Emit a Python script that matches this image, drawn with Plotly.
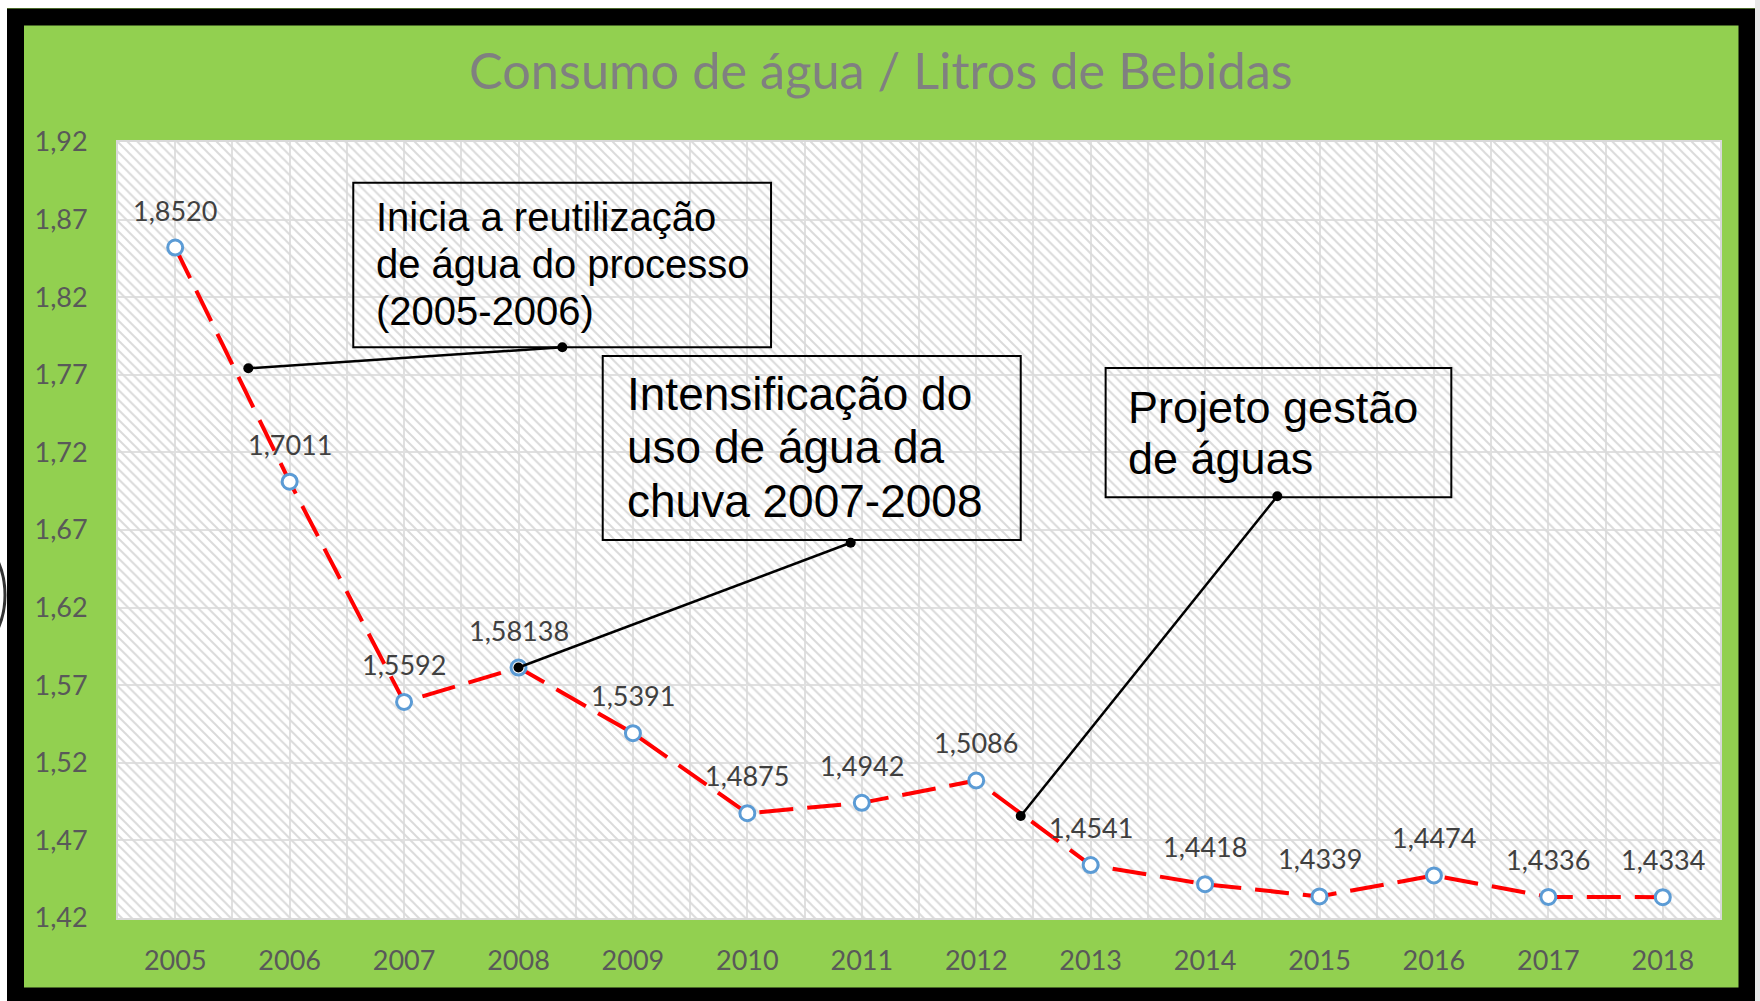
import plotly.graph_objects as go

# ---------------- data ----------------
years = ["2005", "2006", "2007", "2008", "2009", "2010", "2011",
         "2012", "2013", "2014", "2015", "2016", "2017", "2018"]
consumo = [1.8520, 1.7011, 1.5592, 1.58138, 1.5391, 1.4875, 1.4942,
           1.5086, 1.4541, 1.4418, 1.4339, 1.4474, 1.4336, 1.4334]
value_labels = ["1,8520", "1,7011", "1,5592", "1,58138", "1,5391", "1,4875", "1,4942",
                "1,5086", "1,4541", "1,4418", "1,4339", "1,4474", "1,4336", "1,4334"]
y_ticks = [1.42, 1.47, 1.52, 1.57, 1.62, 1.67, 1.72, 1.77, 1.82, 1.87, 1.92]
y_tick_labels = ["1,42", "1,47", "1,52", "1,57", "1,62", "1,67", "1,72", "1,77", "1,82", "1,87", "1,92"]
title_text = "Consumo de água / Litros de Bebidas"

# callout boxes: (x0, x1, y0, y1) in data units, lines of text, left x, baselines, font size
callouts = [
    dict(box=(1.556, 5.207, 1.7877, 1.8938),
         lines=["Inicia a reutilização", "de água do processo", "(2005-2006)"],
         tx=1.737, ty=[1.8623, 1.8321, 1.8018], size=40,
         conn=((0.639, 1.7742), (3.383, 1.7877))),
    dict(box=(3.736, 7.389, 1.6636, 1.7821),
         lines=["Intensificação do", "uso de água da", "chuva 2007-2008"],
         tx=3.931, ty=[1.7467, 1.7122, 1.6777], size=46,
         conn=((3.0, 1.58138), (5.903, 1.6618))),
    dict(box=(8.131, 11.152, 1.6911, 1.7744),
         lines=["Projeto gestão", "de águas"],
         tx=8.307, ty=[1.7383, 1.7054], size=45,
         conn=((7.389, 1.4857), (9.631, 1.6918))),
]

# ---------------- geometry / style ----------------
W, H = 1760, 1001
ML, MR, MT, MB = 118, 40, 142, 83
PW, PH = W - ML - MR, H - MT - MB
XMIN, XMAX = -0.5, len(years) - 0.5
YMIN, YMAX = 1.42, 1.92
GREEN = "#92D050"
TICK_COL = "#595959"
LABEL_COL = "#404040"
GRID_COL = "#e0e0e0"


def px_x(p):
    return (p - ML) / PW


def px_y(p):
    return (H - MB - p) / PH


xs = list(range(len(years)))

fig = go.Figure()

# hatched plot-area background
fig.add_trace(go.Scatter(
    x=[XMIN, XMAX, XMAX, XMIN, XMIN], y=[YMIN, YMIN, YMAX, YMAX, YMIN],
    mode="none", fill="toself", fillcolor="rgba(0,0,0,0)",
    fillpattern=dict(shape="\\", fgcolor="#dadada", size=7, solidity=0.28, fillmode="replace"),
    hoverinfo="skip", showlegend=False))

# main series
fig.add_trace(go.Scatter(
    x=xs, y=consumo, mode="lines+markers",
    line=dict(color="#FF0000", width=4, dash="34px,14px"),
    marker=dict(symbol="circle", size=15, color="white",
                line=dict(color="#5B9BD5", width=3)),
    showlegend=False, cliponaxis=False))

# connectors of callouts
for c in callouts:
    (ax0, ay0), (ax1, ay1) = c["conn"]
    fig.add_trace(go.Scatter(
        x=[ax0, ax1], y=[ay0, ay1], mode="lines+markers",
        line=dict(color="black", width=2.5),
        marker=dict(color="black", size=10),
        showlegend=False, hoverinfo="skip"))

shapes = []
annotations = []

# callout boxes and texts
for c in callouts:
    x0, x1, y0, y1 = c["box"]
    shapes.append(dict(type="rect", xref="x", yref="y", x0=x0, x1=x1, y0=y0, y1=y1,
                       line=dict(color="black", width=2), fillcolor="rgba(0,0,0,0)",
                       layer="above"))
    for line, ty in zip(c["lines"], c["ty"]):
        annotations.append(dict(
            x=c["tx"], y=ty, xref="x", yref="y", text=line, showarrow=False,
            xanchor="left", yanchor="bottom", yshift=-(0.212 * c["size"] + 1),
            font=dict(family="Liberation Sans, Arial", size=c["size"], color="black")))

# data labels
for x, v, t in zip(xs, consumo, value_labels):
    annotations.append(dict(
        x=x, y=v, xref="x", yref="y", text=t, showarrow=False,
        xanchor="center", yanchor="bottom", yshift=19,
        font=dict(family="Lato", size=27, color=LABEL_COL)))

# title
annotations.append(dict(
    x=px_x(881), y=px_y(90), xref="paper", yref="paper", text=title_text,
    showarrow=False, xanchor="center", yanchor="bottom", yshift=-12,
    font=dict(family="Lato", size=50.5, color="#808080")))

# outer black frame and white surroundings
shapes += [
    dict(type="rect", xref="paper", yref="paper", layer="above",
         x0=px_x(15.5), x1=px_x(1747), y0=px_y(17), y1=px_y(996),
         line=dict(color="black", width=17), fillcolor="rgba(0,0,0,0)"),
    dict(type="rect", xref="paper", yref="paper", layer="above",
         x0=px_x(0), x1=px_x(7), y0=px_y(0), y1=px_y(H),
         line=dict(width=0), fillcolor="white"),
    dict(type="rect", xref="paper", yref="paper", layer="above",
         x0=px_x(0), x1=px_x(W), y0=px_y(0), y1=px_y(8),
         line=dict(width=0), fillcolor="white"),
    dict(type="rect", xref="paper", yref="paper", layer="above",
         x0=px_x(1755), x1=px_x(W), y0=px_y(0), y1=px_y(H),
         line=dict(width=0), fillcolor="#e8e8e8"),
    dict(type="circle", xref="paper", yref="paper", layer="above",
         x0=px_x(-130), x1=px_x(5), y0=px_y(520), y1=px_y(670),
         line=dict(color="#333333", width=3), fillcolor="rgba(0,0,0,0)"),
]

fig.update_layout(
    width=W, height=H,
    margin=dict(l=ML, r=MR, t=MT, b=MB),
    paper_bgcolor=GREEN, plot_bgcolor="white",
    shapes=shapes, annotations=annotations,
    showlegend=False,
    xaxis=dict(range=[XMIN, XMAX], tickmode="array", tickvals=xs, ticktext=years,
               showgrid=True, gridcolor=GRID_COL, gridwidth=2,
               minor=dict(tickmode="linear", tick0=XMIN, dtick=1, showgrid=True,
                          gridcolor=GRID_COL, gridwidth=2),
               zeroline=False, showline=True, linecolor="#d9d9d9", linewidth=2, mirror=True,
               ticks="", ticklabelstandoff=18,
               tickfont=dict(family="Lato", size=27, color=TICK_COL)),
    yaxis=dict(range=[YMIN, YMAX], tickmode="array", tickvals=y_ticks, ticktext=y_tick_labels,
               showgrid=True, gridcolor=GRID_COL, gridwidth=2,
               zeroline=False, showline=True, linecolor="#d9d9d9", linewidth=2, mirror=True,
               ticks="", ticklabelstandoff=23,
               tickfont=dict(family="Lato", size=27, color=TICK_COL)),
)

fig.write_html("out.html", config={"displayModeBar": False},
               post_script="document.body.style.margin='0';")
